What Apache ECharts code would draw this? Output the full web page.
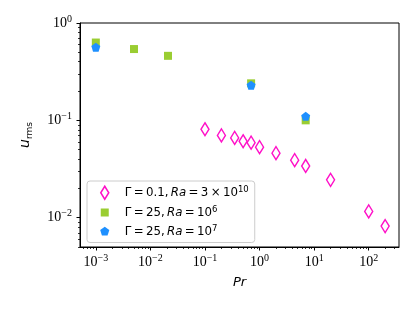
<!DOCTYPE html>
<html><head><meta charset="utf-8">
<script src="https://cdn.jsdelivr.net/npm/echarts@6/dist/echarts.min.js"></script>
<style>html,body{margin:0;padding:0;background:#fff}#c{width:415px;height:312px}</style>
</head><body><div id="c"></div>
<script>
// ---- data ----
const prGamma01   = [0.1, 0.2, 0.35, 0.5, 0.7, 1, 2, 4.4, 7, 20, 100, 200];
const urmsGamma01 = [0.081, 0.070, 0.066, 0.061, 0.059, 0.053, 0.046, 0.039, 0.034, 0.0245, 0.0116, 0.0082];
const prRa6   = [0.001, 0.005, 0.021, 0.7, 7];
const urmsRa6 = [0.63, 0.54, 0.46, 0.24, 0.10];
const prRa7   = [0.001, 0.7, 7];
const urmsRa7 = [0.565, 0.23, 0.11];

const xMajorTicks = [1e-3, 1e-2, 1e-1, 1e0, 1e1, 1e2];
const yMajorTicks = [1e-2, 1e-1, 1e0];
const xDecades = [-4, -3, -2, -1, 0, 1, 2];
const yDecades = [-3, -2, -1];
const minorMultipliers = [2, 3, 4, 5, 6, 7, 8, 9];

const xMin = Math.pow(10, -3.29), xMax = Math.pow(10, 2.555);
const yMin = 0.005, yMax = 1;

function minorTicks(decades, lo, hi) {
  const out = [];
  decades.forEach(d => minorMultipliers.forEach(m => {
    const v = parseFloat((m * Math.pow(10, d)).toPrecision(6));
    if (v >= lo && v <= hi) out.push(v);
  }));
  return out;
}
const xMinorTicks = minorTicks(xDecades, xMin, xMax);
const yMinorTicks = minorTicks(yDecades, yMin, yMax);

const cPink = '#ff10c8', cGreen = '#9acd32', cBlue = '#1e90ff';

function powLabel(v) {
  const e = Math.round(Math.log10(v));
  return '{b|10}{s|' + (e < 0 ? '\u2212' + (-e) : e) + '}';
}
const tickRich = {
  b: { fontFamily: 'Liberation Serif', fontSize: 14, lineHeight: 18, color: '#000' },
  s: { fontFamily: 'Liberation Serif', fontSize: 10, lineHeight: 12, verticalAlign: 'top', color: '#000' }
};

const T = '\u2009';
const legendText = {
  g01: '{n|\u0393' + T + '=' + T + '0.1,' + T + '}{i|Ra}{n|' + T + '=' + T + '3' + T + '\u00d7' + T + '10}{s|10}',
  ra6: '{n|\u0393' + T + '=' + T + '25,' + T + '}{i|Ra}{n|' + T + '=' + T + '10}{s|6}',
  ra7: '{n|\u0393' + T + '=' + T + '25,' + T + '}{i|Ra}{n|' + T + '=' + T + '10}{s|7}'
};
const legendRich = {
  n: { fontFamily: 'DejaVu Sans', fontSize: 11.8, lineHeight: 15, color: '#000' },
  i: { fontFamily: 'DejaVu Sans', fontStyle: 'italic', fontSize: 11.8, lineHeight: 15, color: '#000' },
  s: { fontFamily: 'DejaVu Sans', fontSize: 8.5, lineHeight: 10, verticalAlign: 'top', color: '#000' }
};

const pentagonPath = 'path://M0,-1L0.951,-0.309L0.588,0.809L-0.588,0.809L-0.951,-0.309Z';

const chart = echarts.init(document.getElementById('c'), null, { renderer: 'canvas' });
chart.setOption({
  animation: false,
  backgroundColor: '#fff',
  grid: { left: 80, right: 16, top: 23, bottom: 65, show: true, borderColor: '#000', borderWidth: 1 },
  xAxis: [
    {
      type: 'log', min: xMin, max: xMax, gridIndex: 0, position: 'bottom',
      axisLine: { show: true, lineStyle: { color: '#000', width: 1 } },
      axisTick: { show: true, customValues: xMajorTicks, length: 3.5, lineStyle: { color: '#000', width: 1 } },
      axisLabel: { customValues: xMajorTicks, formatter: powLabel, rich: tickRich, margin: 6 },
      splitLine: { show: false },
      name: 'Pr', nameLocation: 'middle', nameGap: 29,
      nameTextStyle: { fontFamily: 'DejaVu Sans', fontStyle: 'italic', fontSize: 13, color: '#000' }
    },
    {
      type: 'log', min: xMin, max: xMax, gridIndex: 0, position: 'bottom',
      axisLine: { show: false },
      axisTick: { show: true, customValues: xMinorTicks, length: 2, lineStyle: { color: '#000', width: 0.8 } },
      axisLabel: { show: false },
      splitLine: { show: false }
    }
  ],
  yAxis: [
    {
      type: 'log', min: yMin, max: yMax, gridIndex: 0, position: 'left',
      axisLine: { show: true, lineStyle: { color: '#000', width: 1 } },
      axisTick: { show: true, customValues: yMajorTicks, length: 3.5, lineStyle: { color: '#000', width: 1 } },
      axisLabel: { customValues: yMajorTicks, formatter: powLabel, rich: tickRich, margin: 8 },
      splitLine: { show: false },
      name: '{i|u}{r|rms}', nameLocation: 'middle', nameGap: 46,
      nameTextStyle: {
        color: '#000',
        rich: {
          i: { fontFamily: 'DejaVu Sans', fontStyle: 'italic', fontSize: 14, lineHeight: 18, color: '#000' },
          r: { fontFamily: 'DejaVu Sans', fontSize: 9, lineHeight: 12, verticalAlign: 'bottom', color: '#000' }
        }
      }
    },
    {
      type: 'log', min: yMin, max: yMax, gridIndex: 0, position: 'left',
      axisLine: { show: false },
      axisTick: { show: true, customValues: yMinorTicks, length: 2, lineStyle: { color: '#000', width: 0.8 } },
      axisLabel: { show: false },
      splitLine: { show: false }
    }
  ],
  legend: {
    orient: 'vertical', left: 87, top: 181,
    padding: [3, 6, 3, 8], itemGap: 3, itemWidth: 24, itemHeight: 16,
    borderColor: '#cccccc', borderWidth: 1, borderRadius: 3, backgroundColor: 'rgba(255,255,255,0.8)',
    data: [
      { name: 'g01', icon: 'path://M9,1.5L13,8L9,14.5L5,8Z M0,0 M24,16',
        itemStyle: { color: 'rgba(255,255,255,0)', borderColor: cPink, borderWidth: 1.5 } },
      { name: 'ra6', icon: 'path://M5,4L13,4L13,12L5,12Z M0,0 M24,16',
        itemStyle: { color: cGreen, borderWidth: 0 } },
      { name: 'ra7', icon: 'path://M9,3.2L13.56,6.52L11.82,11.88L6.18,11.88L4.44,6.52Z M0,0 M24,16',
        itemStyle: { color: cBlue, borderWidth: 0 } }
    ],
    formatter: name => legendText[name],
    textStyle: { fontFamily: 'DejaVu Sans', fontSize: 11.8, lineHeight: 15, color: '#000', rich: legendRich }
  },
  series: [
    {
      name: 'g01', type: 'scatter', xAxisIndex: 0, yAxisIndex: 0,
      data: prGamma01.map((x, i) => [x, urmsGamma01[i]]),
      symbol: 'diamond', symbolSize: [8, 13],
      itemStyle: { color: 'rgba(255,255,255,0)', borderColor: cPink, borderWidth: 1.5, opacity: 1 },
      z: 2
    },
    {
      name: 'ra6', type: 'scatter', xAxisIndex: 0, yAxisIndex: 0,
      data: prRa6.map((x, i) => [x, urmsRa6[i]]),
      symbol: 'rect', symbolSize: 8,
      itemStyle: { color: cGreen, opacity: 1 },
      z: 3
    },
    {
      name: 'ra7', type: 'scatter', xAxisIndex: 0, yAxisIndex: 0,
      data: prRa7.map((x, i) => [x, urmsRa7[i]]),
      symbol: pentagonPath, symbolSize: 9,
      itemStyle: { color: cBlue, opacity: 1 },
      z: 4
    }
  ]
});
</script>
</body></html>
